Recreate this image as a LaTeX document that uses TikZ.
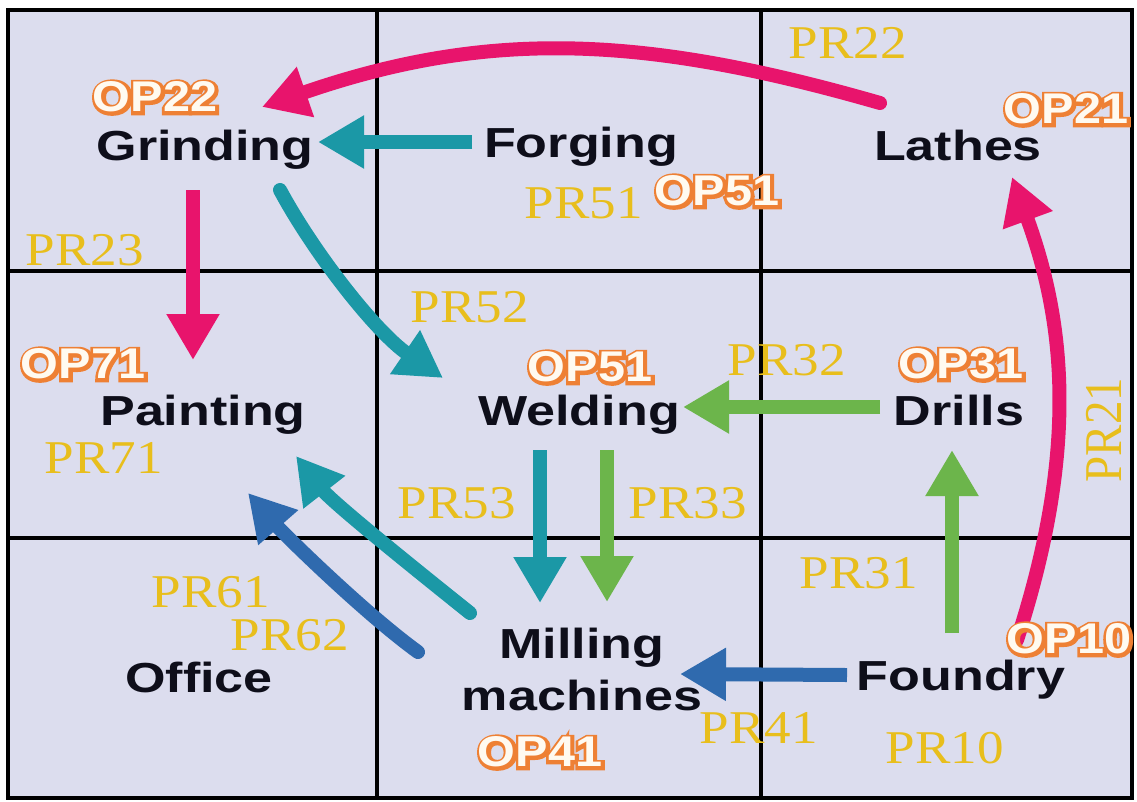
\documentclass[tikz,border=0pt]{standalone}
\usepackage{fontspec}
\setmainfont{Liberation Serif}
\setsansfont{Liberation Sans}
\newfontfamily\opthick{Liberation Sans Bold}[FakeBold=14]
\usetikzlibrary{arrows.meta}
\definecolor{bgc}{RGB}{220,221,238}
\definecolor{pinkc}{RGB}{232,20,108}
\definecolor{tealc}{RGB}{27,152,166}
\definecolor{greenc}{RGB}{108,181,75}
\definecolor{bluec}{RGB}{47,106,174}
\definecolor{goldc}{RGB}{232,190,28}
\definecolor{opc}{RGB}{238,128,52}
\definecolor{opfill}{RGB}{255,250,240}
\definecolor{txtc}{RGB}{14,14,26}
\tikzset{
  gridline/.style={line width=4.5pt, draw=black},
  machine/.style={font=\sffamily\bfseries\fontsize{42}{52}\selectfont, text=txtc, inner sep=0pt, xscale=1.24, align=center},
  prlab/.style={font=\rmfamily\fontsize{47}{50}\selectfont, text=goldc, inner sep=0pt, xscale=1.13},
  opback/.style={font=\opthick\fontsize{43}{45}\selectfont, text=opc, inner sep=0pt, xscale=1.13},
  opfront/.style={font=\sffamily\bfseries\fontsize{43}{45}\selectfont, text=opfill, inner sep=0pt, xscale=1.13},
  flow/.style={line width=14pt, -{Triangle[length=46pt,width=50pt]}},
  pinkflow/.style={flow, draw=pinkc, line cap=round},
  tealflow/.style={flow, draw=tealc},
  greenflow/.style={flow, draw=greenc},
  blueflow/.style={flow, draw=bluec},
}
\newcommand\oplab[4]{%
  \node[opback] (#1-outline) at ([shift={(0.6pt,-0.6pt)}]#2,#3) {#4};
  \node[opfront] (#1) at (#2,#3) {#4};
}
\begin{document}
\begin{tikzpicture}[x=1pt,y=-1pt]
\useasboundingbox (0,0) rectangle (1137,801);
% grid
\fill[bgc] (8,10) rectangle (1132,798);
\draw[gridline] (8,10) rectangle (1132,798);
\draw[gridline] (377,10) -- (377,798);
\draw[gridline] (761,10) -- (761,798);
\draw[gridline] (8,271) -- (1132,271);
\draw[gridline] (8,538) -- (1132,538);
% connector end points
\coordinate (lathesOut) at (880,103);
\coordinate (grindIn) at (262,107);
\coordinate (forgeOut) at (472,142);
\coordinate (grindIn2) at (318,142);
\coordinate (grindOut) at (193,190);
\coordinate (paintIn) at (193,360);
\coordinate (grindOut2) at (280,190);
\coordinate (weldIn) at (443,378);
\coordinate (drillOut) at (880,407);
\coordinate (weldIn2) at (683,407);
\coordinate (foundOut) at (952,633);
\coordinate (drillIn) at (952,450);
\coordinate (foundOut2) at (1017,640);
\coordinate (lathesIn) at (1012,177);
\coordinate (weldOut) at (540,450);
\coordinate (millIn) at (540,603);
\coordinate (weldOut2) at (607,450);
\coordinate (millIn2) at (607,602);
\coordinate (millOut) at (470,613);
\coordinate (paintIn2) at (296,456);
\coordinate (officeOut) at (418,652);
\coordinate (paintIn3) at (248,493);
\coordinate (foundOut3) at (847,675);
\coordinate (millIn3) at (680,674);
% connectors
\draw[pinkflow] (lathesOut) .. controls (647,36) and (491,28) .. (grindIn);
\draw[tealflow] (forgeOut) -- (grindIn2);
\draw[pinkflow, line cap=butt] (grindOut) -- (paintIn);
\draw[tealflow, line cap=round] (grindOut2) .. controls (315,255) and (377,333) .. (weldIn);
\draw[greenflow] (drillOut) -- (weldIn2);
\draw[greenflow] (foundOut) -- (drillIn);
\draw[pinkflow] (foundOut2) .. controls (1077,455) and (1067,327) .. (lathesIn);
\draw[tealflow] (weldOut) -- (millIn);
\draw[greenflow] (weldOut2) -- (millIn2);
\draw[tealflow, line cap=round] (millOut) .. controls (410,565) and (332,502) .. (paintIn2);
\draw[blueflow, line cap=round] (officeOut) .. controls (363,612) and (283,533) .. (paintIn3);
\draw[blueflow] (foundOut3) -- (millIn3);
% machines
\node[machine, anchor=base] (grinding) at (205,160) {Grinding};
\node[machine, anchor=base] (forging) at (581,157) {Forging};
\node[machine, anchor=base] (lathes) at (958,160) {Lathes};
\node[machine, anchor=base] (painting) at (203,425) {Painting};
\node[machine, anchor=base] (welding) at (579,425) {Welding};
\node[machine, anchor=base] (drills) at (959,425) {Drills};
\node[machine, anchor=base] (office) at (199,692) {Office};
\node[machine] (milling) at (582,669) {Milling\\machines};
\node[machine, anchor=base] (foundry) at (961,690) {Foundry};
% PR labels
\node[prlab, anchor=base] (pr22) at (848,58) {PR22};
\node[prlab, anchor=base] (pr23) at (85,265) {PR23};
\node[prlab, anchor=base] (pr51) at (584,218) {PR51};
\node[prlab, anchor=base] (pr52) at (470,322) {PR52};
\node[prlab, anchor=base] (pr32) at (787,375) {PR32};
\node[prlab, anchor=base] (pr71) at (104,473) {PR71};
\node[prlab, anchor=base] (pr53) at (457,518) {PR53};
\node[prlab, anchor=base] (pr33) at (688,518) {PR33};
\node[prlab, rotate=90] (pr21) at (1104,430) {PR21};
\node[prlab, anchor=base] (pr31) at (859,588) {PR31};
\node[prlab, anchor=base] (pr61) at (211,607) {PR61};
\node[prlab, anchor=base] (pr62) at (290,650) {PR62};
\node[prlab, anchor=base] (pr41) at (759,743) {PR41};
\node[prlab, anchor=base] (pr10) at (945,763) {PR10};
% OP labels
\oplab{op22}{155}{97}{OP22}
\oplab{op51a}{717}{191}{OP51}
\oplab{op21}{1066}{109}{OP21}
\oplab{op71}{83}{364}{OP71}
\oplab{op51b}{590}{367}{OP51}
\oplab{op31}{961}{364}{OP31}
\oplab{op10}{1069}{639}{OP10}
\oplab{op41}{540}{752}{OP41}
\end{tikzpicture}
\end{document}
